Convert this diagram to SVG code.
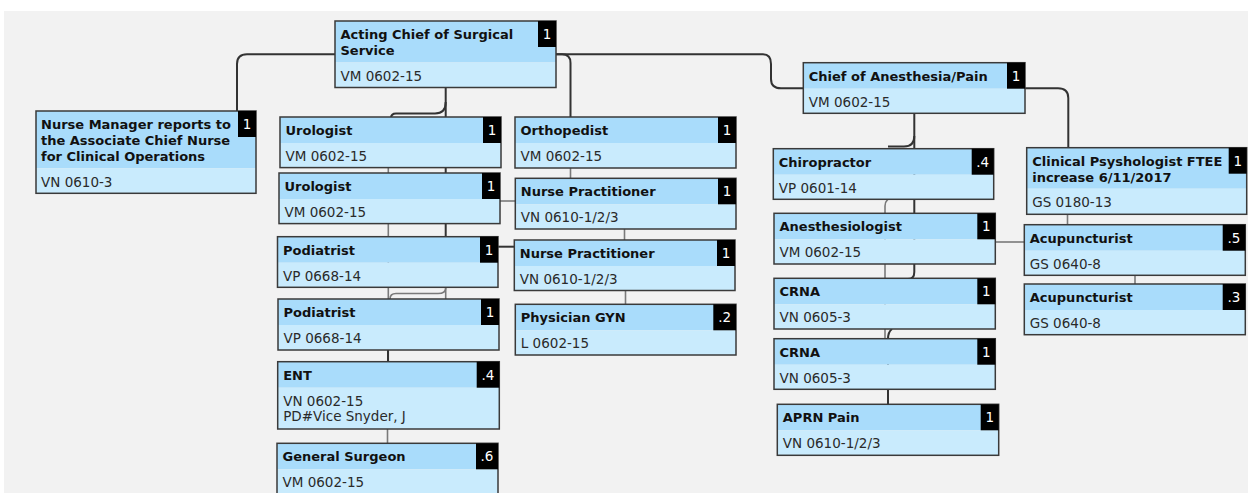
<svg xmlns="http://www.w3.org/2000/svg" width="1248" height="493" viewBox="0 0 1248 493">
<style>
.hd{fill:#a9dcfb}
.bd{fill:#c9ebfd}
.ol{fill:none;stroke:#3a3a3a;stroke-width:1.5}
.bg{fill:#000}
.t{font-family:"DejaVu Sans",Verdana,sans-serif;font-size:13px;font-weight:bold;fill:#111}
.b{font-family:"DejaVu Sans",Verdana,sans-serif;font-size:13.5px;fill:#2a2a2a}
.n{font-family:"DejaVu Sans",Verdana,sans-serif;font-size:13.5px;fill:#fff;text-anchor:middle}
.dk{fill:none;stroke:#333;stroke-width:2}
.gy{fill:none;stroke:#7a7a7a;stroke-width:1.6}
</style>
<rect x="0" y="0" width="1248" height="493" fill="#fff"/>
<rect x="4" y="11" width="1244" height="482" fill="#f2f2f2"/>
<g id="connectors">
<path class="dk" d="M335,54.3 H247 Q237,54.3 237,64 V111"/>
<path class="dk" d="M556,54.3 H763 Q771,54.3 771,64 V79 Q771,88.3 781,88.3 H803.3"/>
<path class="dk" d="M556,54.3 H562 Q570.5,54.3 570.5,63 V117"/>
<path class="dk" d="M445.7,88 V237"/>
<path class="dk" d="M445.7,102 Q445.7,113.5 435,113.5 H396 Q391,113.5 391,118"/>
<path class="gy" d="M445.7,287 V299"/>
<path class="gy" d="M445.7,287 V288 Q445.7,293.5 438,293.5 H396 Q390,293.5 390,299"/>
<path class="gy" d="M388.3,168 V362"/>
<path class="dk" d="M388,350 V362"/>
<path class="gy" d="M387.5,429 V443.3"/>
<path class="gy" d="M500,201 H515.3"/>
<path class="dk" d="M498,246.7 H514.3"/>
<path class="gy" d="M570.5,168 V178.3"/>
<path class="gy" d="M624.5,229 V240"/>
<path class="gy" d="M625.5,290 V304.3"/>
<path class="dk" d="M914.3,113 V272 Q914.3,279 908,279"/>
<path class="dk" d="M914.3,136 Q914.3,146.5 904,146.5 H888"/>
<path class="dk" d="M892,329 Q888,332 888,339 V404.3"/>
<path class="gy" d="M895,197 Q885,198 885,206 V338.7"/>
<path class="gy" d="M995.3,242 H1024.3"/>
<path class="dk" d="M1025,88.3 H1058 Q1068.3,88.3 1068.3,98 V147.7"/>
<path class="gy" d="M1067.5,214.3 V224.7"/>
<path class="gy" d="M1135,275.3 V284"/>
</g>
<g id="nurse-manager">
<rect class="hd" x="36" y="111" width="220" height="57.3"/>
<rect class="bd" x="36" y="168.3" width="220" height="25"/>
<rect class="ol" x="36" y="111" width="220" height="82.3"/>
<rect class="bg" x="238" y="111" width="18" height="26"/>
<text class="t" x="41" y="129">Nurse Manager reports to</text>
<text class="t" x="41" y="144.8">the Associate Chief Nurse</text>
<text class="t" x="41" y="160.6">for Clinical Operations</text>
<text class="b" x="41" y="186.5">VN 0610-3</text>
<text class="n" x="247" y="129">1</text>
</g>
<g id="acting-chief">
<rect class="hd" x="335" y="21" width="221" height="41.5"/>
<rect class="bd" x="335" y="62.5" width="221" height="25"/>
<rect class="ol" x="335" y="21" width="221" height="66.5"/>
<rect class="bg" x="538" y="21" width="18" height="26"/>
<text class="t" x="340.5" y="39">Acting Chief of Surgical</text>
<text class="t" x="340.5" y="54.8">Service</text>
<text class="b" x="340.5" y="80.5">VM 0602-15</text>
<text class="n" x="547" y="39">1</text>
</g>
<g id="urologist-1">
<rect class="hd" x="280" y="117" width="221" height="26"/>
<rect class="bd" x="280" y="143" width="221" height="24.6"/>
<rect class="ol" x="280" y="117" width="221" height="50.6"/>
<rect class="bg" x="483" y="117" width="18" height="26"/>
<text class="t" x="285.5" y="135">Urologist</text>
<text class="b" x="285.5" y="161">VM 0602-15</text>
<text class="n" x="492" y="135">1</text>
</g>
<g id="urologist-2">
<rect class="hd" x="279" y="173" width="221" height="26"/>
<rect class="bd" x="279" y="199" width="221" height="24.6"/>
<rect class="ol" x="279" y="173" width="221" height="50.6"/>
<rect class="bg" x="482" y="173" width="18" height="26"/>
<text class="t" x="284.5" y="191">Urologist</text>
<text class="b" x="284.5" y="217">VM 0602-15</text>
<text class="n" x="491" y="191">1</text>
</g>
<g id="podiatrist-1">
<rect class="hd" x="277.5" y="236.7" width="220.5" height="26"/>
<rect class="bd" x="277.5" y="262.7" width="220.5" height="24.6"/>
<rect class="ol" x="277.5" y="236.7" width="220.5" height="50.6"/>
<rect class="bg" x="480" y="236.7" width="18" height="26"/>
<text class="t" x="283" y="254.7">Podiatrist</text>
<text class="b" x="283" y="280.7">VP 0668-14</text>
<text class="n" x="489" y="254.7">1</text>
</g>
<g id="podiatrist-2">
<rect class="hd" x="278" y="299" width="221" height="26"/>
<rect class="bd" x="278" y="325" width="221" height="25"/>
<rect class="ol" x="278" y="299" width="221" height="51"/>
<rect class="bg" x="481" y="299" width="18" height="26"/>
<text class="t" x="283.5" y="317">Podiatrist</text>
<text class="b" x="283.5" y="343">VP 0668-14</text>
<text class="n" x="490" y="317">1</text>
</g>
<g id="ent">
<rect class="hd" x="277.7" y="361.7" width="221.6" height="26"/>
<rect class="bd" x="277.7" y="387.7" width="221.6" height="41.3"/>
<rect class="ol" x="277.7" y="361.7" width="221.6" height="67.3"/>
<rect class="bg" x="476.7" y="361.7" width="22.6" height="26"/>
<text class="t" x="283.2" y="379.7">ENT</text>
<text class="b" x="283.2" y="405.5">VN 0602-15</text>
<text class="b" x="283.2" y="421.3">PD#Vice Snyder, J</text>
<text class="n" x="488" y="379.7">.4</text>
</g>
<g id="general-surgeon">
<rect class="hd" x="277" y="443.3" width="221" height="26"/>
<rect class="bd" x="277" y="469.3" width="221" height="25"/>
<rect class="ol" x="277" y="443.3" width="221" height="51"/>
<rect class="bg" x="476" y="443.3" width="22" height="26"/>
<text class="t" x="282.5" y="461.3">General Surgeon</text>
<text class="b" x="282.5" y="487.3">VM 0602-15</text>
<text class="n" x="487" y="461.3">.6</text>
</g>
<g id="orthopedist">
<rect class="hd" x="515" y="117" width="221" height="26"/>
<rect class="bd" x="515" y="143" width="221" height="25"/>
<rect class="ol" x="515" y="117" width="221" height="51"/>
<rect class="bg" x="718" y="117" width="18" height="26"/>
<text class="t" x="520.5" y="135">Orthopedist</text>
<text class="b" x="520.5" y="161">VM 0602-15</text>
<text class="n" x="727" y="135">1</text>
</g>
<g id="nurse-practitioner-1">
<rect class="hd" x="515.3" y="178.3" width="220.7" height="26"/>
<rect class="bd" x="515.3" y="204.3" width="220.7" height="24.7"/>
<rect class="ol" x="515.3" y="178.3" width="220.7" height="50.7"/>
<rect class="bg" x="718" y="178.3" width="18" height="26"/>
<text class="t" x="520.8" y="196.3">Nurse Practitioner</text>
<text class="b" x="520.8" y="222.3">VN 0610-1/2/3</text>
<text class="n" x="727" y="196.3">1</text>
</g>
<g id="nurse-practitioner-2">
<rect class="hd" x="514.3" y="240" width="220.7" height="26"/>
<rect class="bd" x="514.3" y="266" width="220.7" height="24.5"/>
<rect class="ol" x="514.3" y="240" width="220.7" height="50.5"/>
<rect class="bg" x="717" y="240" width="18" height="26"/>
<text class="t" x="519.8" y="258">Nurse Practitioner</text>
<text class="b" x="519.8" y="284">VN 0610-1/2/3</text>
<text class="n" x="726" y="258">1</text>
</g>
<g id="physician-gyn">
<rect class="hd" x="515.3" y="304.3" width="220.7" height="26"/>
<rect class="bd" x="515.3" y="330.3" width="220.7" height="24.7"/>
<rect class="ol" x="515.3" y="304.3" width="220.7" height="50.7"/>
<rect class="bg" x="713.3" y="304.3" width="22.7" height="26"/>
<text class="t" x="520.8" y="322.3">Physician GYN</text>
<text class="b" x="520.8" y="348.3">L 0602-15</text>
<text class="n" x="724.7" y="322.3">.2</text>
</g>
<g id="chief-anesthesia">
<rect class="hd" x="803.3" y="62.7" width="221.7" height="26"/>
<rect class="bd" x="803.3" y="88.7" width="221.7" height="24.6"/>
<rect class="ol" x="803.3" y="62.7" width="221.7" height="50.6"/>
<rect class="bg" x="1007" y="62.7" width="18" height="26"/>
<text class="t" x="808.8" y="80.7">Chief of Anesthesia/Pain</text>
<text class="b" x="808.8" y="106.7">VM 0602-15</text>
<text class="n" x="1016" y="80.7">1</text>
</g>
<g id="chiropractor">
<rect class="hd" x="773.3" y="148.7" width="220.4" height="26"/>
<rect class="bd" x="773.3" y="174.7" width="220.4" height="24.6"/>
<rect class="ol" x="773.3" y="148.7" width="220.4" height="50.6"/>
<rect class="bg" x="971.7" y="148.7" width="22" height="26"/>
<text class="t" x="778.8" y="166.7">Chiropractor</text>
<text class="b" x="778.8" y="192.7">VP 0601-14</text>
<text class="n" x="982.7" y="166.7">.4</text>
</g>
<g id="anesthesiologist">
<rect class="hd" x="774" y="213.3" width="221.3" height="26"/>
<rect class="bd" x="774" y="239.3" width="221.3" height="24.7"/>
<rect class="ol" x="774" y="213.3" width="221.3" height="50.7"/>
<rect class="bg" x="977.3" y="213.3" width="18" height="26"/>
<text class="t" x="779.5" y="231.3">Anesthesiologist</text>
<text class="b" x="779.5" y="257.3">VM 0602-15</text>
<text class="n" x="986.3" y="231.3">1</text>
</g>
<g id="crna-1">
<rect class="hd" x="774" y="278.3" width="221.3" height="26"/>
<rect class="bd" x="774" y="304.3" width="221.3" height="24.7"/>
<rect class="ol" x="774" y="278.3" width="221.3" height="50.7"/>
<rect class="bg" x="977.3" y="278.3" width="18" height="26"/>
<text class="t" x="779.5" y="296.3">CRNA</text>
<text class="b" x="779.5" y="322.3">VN 0605-3</text>
<text class="n" x="986.3" y="296.3">1</text>
</g>
<g id="crna-2">
<rect class="hd" x="774" y="338.7" width="221.3" height="26"/>
<rect class="bd" x="774" y="364.7" width="221.3" height="24.6"/>
<rect class="ol" x="774" y="338.7" width="221.3" height="50.6"/>
<rect class="bg" x="977.3" y="338.7" width="18" height="26"/>
<text class="t" x="779.5" y="356.7">CRNA</text>
<text class="b" x="779.5" y="382.7">VN 0605-3</text>
<text class="n" x="986.3" y="356.7">1</text>
</g>
<g id="aprn-pain">
<rect class="hd" x="777.3" y="404.3" width="221.4" height="26"/>
<rect class="bd" x="777.3" y="430.3" width="221.4" height="25"/>
<rect class="ol" x="777.3" y="404.3" width="221.4" height="51"/>
<rect class="bg" x="980.7" y="404.3" width="18" height="26"/>
<text class="t" x="782.8" y="422.3">APRN Pain</text>
<text class="b" x="782.8" y="448.3">VN 0610-1/2/3</text>
<text class="n" x="989.7" y="422.3">1</text>
</g>
<g id="clinical-psychologist">
<rect class="hd" x="1026.7" y="147.7" width="220" height="41"/>
<rect class="bd" x="1026.7" y="188.7" width="220" height="25.6"/>
<rect class="ol" x="1026.7" y="147.7" width="220" height="66.6"/>
<rect class="bg" x="1228.7" y="147.7" width="18" height="26"/>
<text class="t" x="1032.2" y="165.7">Clinical Psyshologist FTEE</text>
<text class="t" x="1032.2" y="181.5">increase 6/11/2017</text>
<text class="b" x="1032.2" y="206.7">GS 0180-13</text>
<text class="n" x="1237.7" y="165.7">1</text>
</g>
<g id="acupuncturist-1">
<rect class="hd" x="1024.3" y="224.7" width="221" height="26"/>
<rect class="bd" x="1024.3" y="250.7" width="221" height="24.6"/>
<rect class="ol" x="1024.3" y="224.7" width="221" height="50.6"/>
<rect class="bg" x="1222.7" y="224.7" width="22.6" height="26"/>
<text class="t" x="1029.8" y="242.7">Acupuncturist</text>
<text class="b" x="1029.8" y="268.7">GS 0640-8</text>
<text class="n" x="1234" y="242.7">.5</text>
</g>
<g id="acupuncturist-2">
<rect class="hd" x="1024.3" y="284" width="221" height="26"/>
<rect class="bd" x="1024.3" y="310" width="221" height="24.7"/>
<rect class="ol" x="1024.3" y="284" width="221" height="50.7"/>
<rect class="bg" x="1222.7" y="284" width="22.6" height="26"/>
<text class="t" x="1029.8" y="302">Acupuncturist</text>
<text class="b" x="1029.8" y="328">GS 0640-8</text>
<text class="n" x="1234" y="302">.3</text>
</g>
</svg>
